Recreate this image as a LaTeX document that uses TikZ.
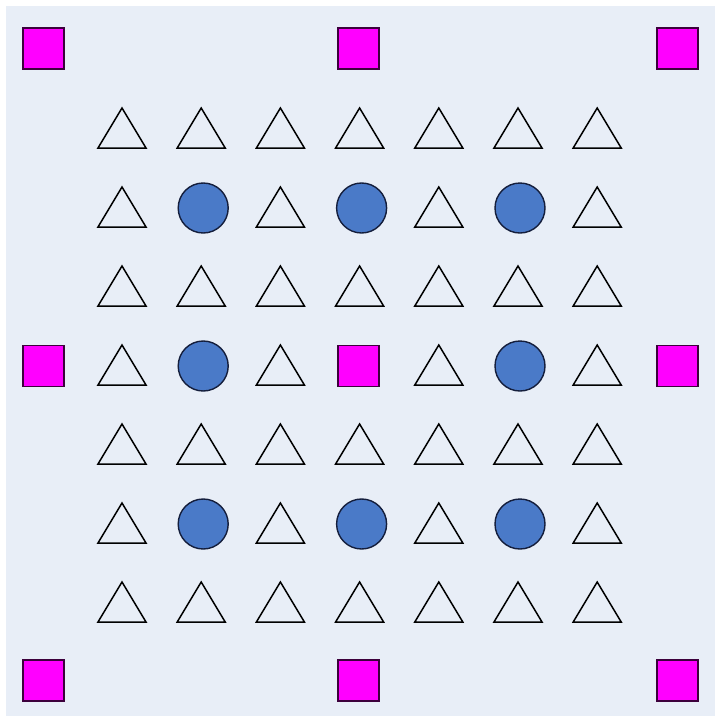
\documentclass[tikz,border=0pt]{standalone}
\usetikzlibrary{shapes.geometric}
\definecolor{bgc}{RGB}{232,238,247}
\definecolor{mag}{RGB}{255,0,255}
\definecolor{magline}{RGB}{60,0,60}
\definecolor{dotc}{RGB}{74,122,200}
\definecolor{dotline}{RGB}{20,30,60}
\begin{document}
\begin{tikzpicture}[x=1pt,y=-1pt,
  sq/.style={draw=magline,fill=mag,line width=1.6pt,minimum size=41pt,inner sep=0pt,shape=rectangle},
  dot/.style={draw=dotline,fill=dotc,line width=1.4pt,circle,minimum size=50pt,inner sep=0pt},
  tri/.style={draw=black,line width=1.5pt,line join=miter}]
\useasboundingbox (0,0) rectangle (715,716);
\fill[white] (0,0) rectangle (715,716);
\fill[bgc] (6,6) rectangle (715,716);
% squares
\foreach \i/\x in {1/43.5,2/358.5,3/677.5}{
  \foreach \j/\y in {1/48.5,2/366,3/680.5}{
    \ifnum\i=2\relax
      \node[sq] (s\i\j) at (\x,\y) {};
    \else
      \node[sq] (s\i\j) at (\x,\y) {};
    \fi
  }
}
% triangles and circles
\foreach \c in {1,...,7}{
  \foreach \r in {1,...,7}{
    \pgfmathsetmacro{\cx}{122+(\c-1)*79.2}
    \pgfmathsetmacro{\cy}{128+(\r-1)*79}
    \pgfmathtruncatemacro{\ce}{mod(\c,2)}
    \pgfmathtruncatemacro{\re}{mod(\r,2)}
    \pgfmathtruncatemacro{\iscenter}{(\c==4)&&(\r==4)}
    \ifnum\iscenter=1\relax
    \else
      \ifnum\ce=0\relax\ifnum\re=0\relax
        \node[dot] (d\c\r) at (\cx+2,\cy+1) {};
      \else
        \draw[tri] (\cx-24,\cy+20) -- (\cx,\cy-20) -- (\cx+24,\cy+20) -- cycle;
      \fi\else
        \draw[tri] (\cx-24,\cy+20) -- (\cx,\cy-20) -- (\cx+24,\cy+20) -- cycle;
      \fi
    \fi
  }
}
\end{tikzpicture}
\end{document}
